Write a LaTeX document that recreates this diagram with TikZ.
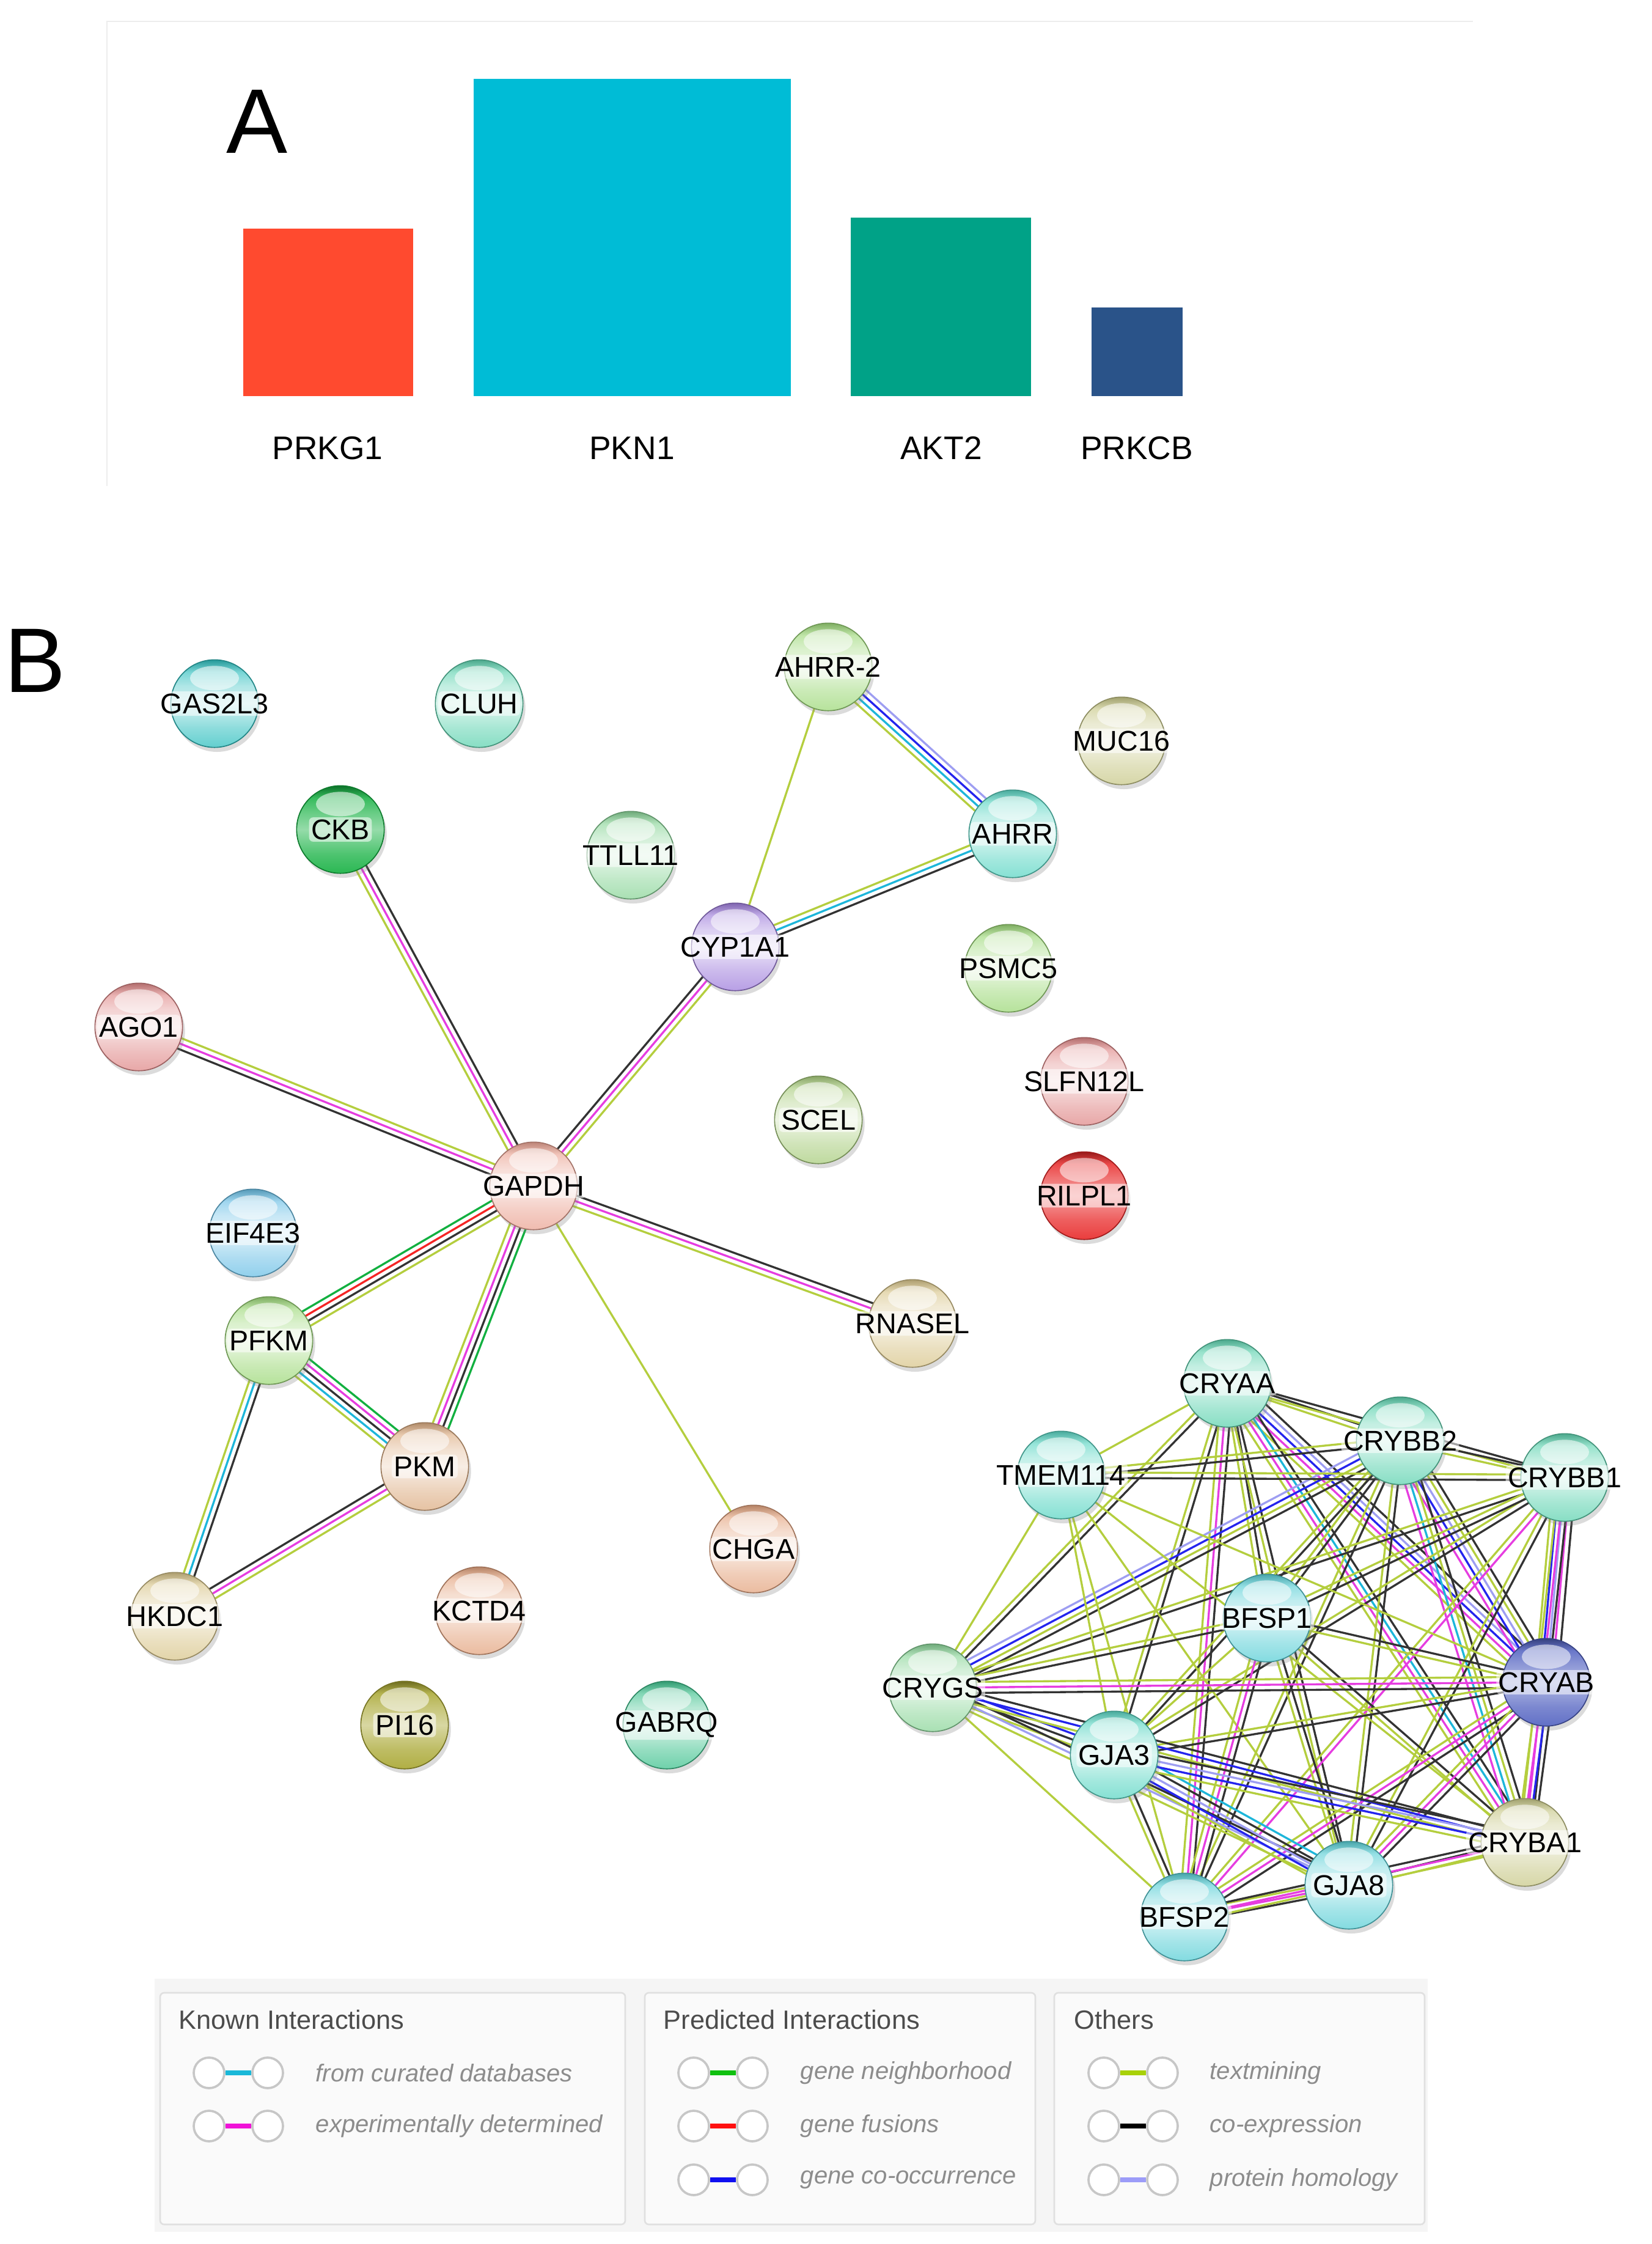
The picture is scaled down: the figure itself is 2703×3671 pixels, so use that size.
\documentclass[tikz,border=0pt]{standalone}
\usepackage{fontspec}
\setmainfont{Liberation Sans}
\usetikzlibrary{calc,shadows,backgrounds}

% bar colours
\definecolor{bprkg}{HTML}{FF4A2F}
\definecolor{bpkn}{HTML}{00BCD6}
\definecolor{bakt}{HTML}{00A287}
\definecolor{bprkcb}{HTML}{2A5389}
% evidence colours
\definecolor{ctxt}{HTML}{B4CE3E}
\definecolor{ccoex}{HTML}{333333}
\definecolor{cexpt}{HTML}{E63DE0}
\definecolor{ccurd}{HTML}{1DB6DA}
\definecolor{cnbhd}{HTML}{12B040}
\definecolor{cfus}{HTML}{F52525}
\definecolor{ccooc}{HTML}{2424EE}
\definecolor{chomo}{HTML}{9E9EF2}
% legend bar colours
\definecolor{ltxt}{HTML}{A8D108}
\definecolor{lexpt}{HTML}{F012D8}
\definecolor{lcurd}{HTML}{1AB8D8}
\definecolor{lnbhd}{HTML}{10C010}
\definecolor{lfus}{HTML}{FF1010}
\definecolor{lcooc}{HTML}{1010F0}
\definecolor{lhomo}{HTML}{9C9CF8}
% protein colours
\definecolor{nteal}{HTML}{2FBFBF}
\definecolor{nmint}{HTML}{5FD3B0}
\definecolor{nlgreen}{HTML}{9ED97A}
\definecolor{nolive}{HTML}{C9C98A}
\definecolor{nckb}{HTML}{13B040}
\definecolor{nsage}{HTML}{8CD69A}
\definecolor{naqua}{HTML}{5CD6C4}
\definecolor{npurple}{HTML}{A07FDC}
\definecolor{npink}{HTML}{E08A8A}
\definecolor{nscel}{HTML}{A9CD7E}
\definecolor{nsalmon}{HTML}{EBA595}
\definecolor{nred}{HTML}{E82828}
\definecolor{nsky}{HTML}{6CC0E6}
\definecolor{nbeige}{HTML}{D9C68C}
\definecolor{ntan}{HTML}{DDAE84}
\definecolor{npeach}{HTML}{E4A580}
\definecolor{npi}{HTML}{A8A630}
\definecolor{ngabrq}{HTML}{3FC28E}
\definecolor{ncyan}{HTML}{5ACFD6}
\definecolor{nnavy}{HTML}{5060C0}

\colorlet{ballc}{gray}
\pgfdeclareverticalshading[ballc]{ballshade}{100bp}{color(0bp)=(ballc!75!white); color(25bp)=(ballc!75!white);
  color(36bp)=(ballc!55!white); color(50bp)=(ballc!22!white); color(60bp)=(ballc!38!white);
  color(68bp)=(ballc!65!white); color(75bp)=(ballc!80!black); color(100bp)=(ballc!80!black)}
\pgfdeclareverticalshading[ballc]{dballshade}{100bp}{color(0bp)=(ballc!90!white); color(25bp)=(ballc!90!white);
  color(36bp)=(ballc!75!white); color(50bp)=(ballc!45!white); color(60bp)=(ballc!65!white);
  color(68bp)=(ballc!85!white); color(75bp)=(ballc!65!black); color(100bp)=(ballc!65!black)}

\tikzset{
  ball/.style={circle, minimum size=43pt, inner sep=0pt, draw=#1!70!black, line width=0.5pt,
    /utils/exec={\colorlet{ballc}{#1}}, shading=ballshade,
    path picture={\fill[white, opacity=0.55] ($(path picture bounding box.center)+(0pt,12.5pt)$) ellipse (12pt and 6pt);},
    drop shadow={opacity=0.28, shadow xshift=1.2pt, shadow yshift=-2.2pt}},
  dball/.style={ball=#1, shading=dballshade},
  glab/.style={font=\fontsize{14}{16}\selectfont, fill=white, fill opacity=0.55, text opacity=1, inner sep=1pt, rounded corners=2pt},
  txt/.style={draw=ctxt, line width=1pt},
  coex/.style={draw=ccoex, line width=1pt},
  expt/.style={draw=cexpt, line width=1pt},
  curd/.style={draw=ccurd, line width=1pt},
  nbhd/.style={draw=cnbhd, line width=1pt},
  fus/.style={draw=cfus, line width=1pt},
  cooc/.style={draw=ccooc, line width=1pt},
  homo/.style={draw=chomo, line width=1pt},
  barlab/.style={font=\fontsize{16}{19}\selectfont},
  panlab/.style={font=\fontsize{45}{50}\selectfont},
  legbox/.style={fill=black!2, draw=black!12, line width=0.8pt, rounded corners=2pt},
  legttl/.style={anchor=west, text=black!70, font=\fontsize{13}{15}\selectfont},
  legtxt/.style={anchor=west, text=black!45, font=\itshape\fontsize{12}{14}\selectfont},
  legball/.style={circle, minimum size=15pt, inner sep=0pt, fill=white, draw=black!22, line width=1.1pt},
  legbar/.style={draw=#1, line width=2.3pt}
}

% parallel evidence lines between two proteins
\newcommand{\strlink}[3]{%
  \foreach \lc [count=\lnn] in {#3}{\xdef\nlines{\lnn}}%
  \foreach \lc [count=\lnn] in {#3}{%
    \pgfmathsetmacro{\lnoff}{(\lnn-(\nlines+1)/2)*2.7}%
    \draw[\lc] ($(#1)!\lnoff pt!90:(#2)$) -- ($(#2)!\lnoff pt!-90:(#1)$);
  }%
}

\begin{document}
\begin{tikzpicture}[x=0.3pt,y=-0.3pt]
\useasboundingbox (0,0) rectangle (2703,3671);

%Panel A frame
\draw[black!7, line width=0.8pt] (175,795) -- (175,35) -- (2410,35);
\node[panlab] (pa) at (421,199) {A};
%Bars
\fill[bprkg] (398,374) rectangle (676,648);
\fill[bpkn] (775,129) rectangle (1294,648);
\fill[bakt] (1392,356) rectangle (1687,648);
\fill[bprkcb] (1786,503) rectangle (1935,648);
\node[barlab] (lprkg) at (536,733) {PRKG1};
\node[barlab] (lpkn) at (1034,733) {PKN1};
\node[barlab] (lakt) at (1540,733) {AKT2};
\node[barlab] (lprkcb) at (1860,733) {PRKCB};

%Panel B
\node[panlab] (pb) at (58,1081) {B};

%Proteins
\node[ball=nteal,label={[glab]center:GAS2L3}] (gas) at (351,1151) {};
\node[ball=nmint,label={[glab]center:CLUH}] (cluh) at (784,1151) {};
\node[ball=nlgreen,label={[glab]center:AHRR-2}] (ahrrtwo) at (1355,1091) {};
\node[ball=nolive,label={[glab]center:MUC16}] (muc) at (1835,1212) {};
\node[dball=nckb,label={[glab]center:CKB}] (ckb) at (557,1357) {};
\node[ball=nsage,label={[glab]center:TTLL11}] (ttll) at (1032,1399) {};
\node[ball=naqua,label={[glab]center:AHRR}] (ahrr) at (1657,1364) {};
\node[ball=npurple,label={[glab]center:CYP1A1}] (cyp) at (1203,1549) {};
\node[ball=nlgreen,label={[glab]center:PSMC5}] (psmc) at (1650,1584) {};
\node[ball=npink,label={[glab]center:AGO1}] (ago) at (227,1680) {};
\node[ball=npink,label={[glab]center:SLFN12L}] (slfn) at (1774,1769) {};
\node[ball=nscel,label={[glab]center:SCEL}] (scel) at (1339,1832) {};
\node[ball=nsalmon,label={[glab]center:GAPDH}] (gapdh) at (873,1940) {};
\node[dball=nred,label={[glab]center:RILPL1}] (rilpl) at (1774,1956) {};
\node[ball=nsky,label={[glab]center:EIF4E3}] (eif) at (414,2017) {};
\node[ball=nlgreen,label={[glab]center:PFKM}] (pfkm) at (440,2193) {};
\node[ball=nbeige,label={[glab]center:RNASEL}] (rnasel) at (1493,2165) {};
\node[ball=ntan,label={[glab]center:PKM}] (pkm) at (695,2399) {};
\node[ball=npeach,label={[glab]center:CHGA}] (chga) at (1233,2534) {};
\node[ball=nbeige,label={[glab]center:HKDC1}] (hkdc) at (286,2644) {};
\node[ball=npeach,label={[glab]center:KCTD4}] (kctd) at (784,2635) {};
\node[dball=npi,label={[glab]center:PI16}] (pi) at (662,2822) {};
\node[ball=ngabrq,label={[glab]center:GABRQ}] (gabrq) at (1091,2822) {};
%Lens cluster
\node[ball=nmint,label={[glab]center:CRYAA}] (cryaa) at (2008,2263) {};
\node[ball=nmint,label={[glab]center:CRYBB2}] (crybbtwo) at (2291,2357) {};
\node[ball=nmint,label={[glab]center:CRYBB1}] (crybbone) at (2560,2417) {};
\node[ball=naqua,label={[glab]center:TMEM114}] (tmem) at (1736,2413) {};
\node[ball=ncyan,label={[glab]center:BFSP1}] (bfspone) at (2073,2647) {};
\node[dball=nnavy,label={[glab]center:CRYAB}] (cryab) at (2530,2752) {};
\node[ball=nsage,label={[glab]center:CRYGS}] (crygs) at (1526,2761) {};
\node[ball=naqua,label={[glab]center:GJA3}] (gjathree) at (1823,2871) {};
\node[ball=nolive,label={[glab]center:CRYBA1}] (cryba) at (2495,3014) {};
\node[ball=ncyan,label={[glab]center:GJA8}] (gjaeight) at (2207,3084) {};
\node[ball=ncyan,label={[glab]center:BFSP2}] (bfsptwo) at (1938,3136) {};

\begin{pgfonlayer}{background}
\fill[white] (0,0) rectangle (2703,3671);
%Edges, glycolysis star
\strlink{ago}{gapdh}{coex,expt,txt}
\strlink{ckb}{gapdh}{txt,expt,coex}
\strlink{cyp}{gapdh}{coex,expt,txt}
\strlink{gapdh}{rnasel}{txt,expt,coex}
\strlink{gapdh}{chga}{txt}
\strlink{gapdh}{pfkm}{nbhd,fus,coex,txt}
\strlink{gapdh}{pkm}{txt,expt,coex,nbhd}
\strlink{pfkm}{pkm}{txt,curd,coex,expt,nbhd}
\strlink{pfkm}{hkdc}{txt,curd,coex}
\strlink{pkm}{hkdc}{coex,expt,txt}
\strlink{cyp}{ahrrtwo}{txt}
\strlink{cyp}{ahrr}{coex,curd,txt}
\strlink{ahrrtwo}{ahrr}{txt,curd,cooc,homo}
%Edges, lens cluster
\strlink{cryaa}{crybbtwo}{txt,coex}
\strlink{cryaa}{crybbone}{txt,coex}
\strlink{cryaa}{cryab}{txt,expt,cooc,homo,coex}
\strlink{cryaa}{cryba}{txt,expt,curd,coex}
\strlink{cryaa}{tmem}{txt}
\strlink{cryaa}{bfspone}{txt,coex}
\strlink{cryaa}{crygs}{txt,coex}
\strlink{cryaa}{gjathree}{txt,coex}
\strlink{cryaa}{gjaeight}{txt,coex}
\strlink{cryaa}{bfsptwo}{txt,expt,coex}
\strlink{crybbtwo}{crybbone}{txt,coex}
\strlink{crybbtwo}{tmem}{txt,coex}
\strlink{crybbtwo}{crygs}{homo,cooc,txt,coex}
\strlink{crybbtwo}{bfspone}{txt,coex}
\strlink{crybbtwo}{cryab}{expt,cooc,homo,txt,coex}
\strlink{crybbtwo}{cryba}{expt,curd,txt,coex}
\strlink{crybbtwo}{gjathree}{txt,coex}
\strlink{crybbtwo}{gjaeight}{txt,coex}
\strlink{crybbtwo}{bfsptwo}{txt,coex}
\strlink{crybbone}{tmem}{txt,coex}
\strlink{crybbone}{cryab}{txt,cooc,homo,expt,coex}
\strlink{crybbone}{cryba}{txt,expt,coex}
\strlink{crybbone}{crygs}{txt,coex}
\strlink{crybbone}{gjathree}{txt,coex}
\strlink{crybbone}{bfsptwo}{txt,expt}
\strlink{crybbone}{gjaeight}{txt,coex}
\strlink{crybbone}{bfspone}{txt,coex}
\strlink{tmem}{crygs}{txt}
\strlink{tmem}{gjathree}{txt}
\strlink{tmem}{bfsptwo}{txt}
\strlink{tmem}{cryab}{txt}
\strlink{tmem}{gjaeight}{txt}
\strlink{tmem}{cryba}{txt}
\strlink{bfspone}{crygs}{txt,coex}
\strlink{bfspone}{cryab}{txt,coex}
\strlink{bfspone}{gjathree}{txt}
\strlink{bfspone}{bfsptwo}{txt,expt,coex}
\strlink{bfspone}{gjaeight}{txt,coex}
\strlink{bfspone}{cryba}{txt,coex}
\strlink{cryab}{crygs}{txt,expt,coex}
\strlink{cryab}{gjathree}{txt,coex}
\strlink{cryab}{bfsptwo}{txt,expt,coex}
\strlink{cryab}{gjaeight}{txt,expt,coex}
\strlink{cryab}{cryba}{txt,expt,cooc,coex}
\strlink{crygs}{gjathree}{txt,coex,cooc}
\strlink{crygs}{bfsptwo}{txt}
\strlink{crygs}{gjaeight}{txt,homo,coex}
\strlink{crygs}{cryba}{txt,cooc,coex}
\strlink{gjathree}{gjaeight}{txt,cooc,homo,coex,curd}
\strlink{gjathree}{bfsptwo}{txt,coex}
\strlink{gjathree}{cryba}{txt,cooc,homo,coex}
\strlink{gjaeight}{bfsptwo}{txt,expt,coex}
\strlink{gjaeight}{cryba}{txt,coex}
\strlink{bfsptwo}{cryba}{txt,expt,coex}
\end{pgfonlayer}

%Legend
\fill[black!4] (253,3237) rectangle (2336,3651);
\draw[legbox] (262,3260) rectangle (1023,3639);
\draw[legbox] (1055,3260) rectangle (1694,3639);
\draw[legbox] (1725,3260) rectangle (2331,3639);
\node[legttl] (tknown) at (281,3304) {Known Interactions};
\node[legttl] (tpred) at (1074,3304) {Predicted Interactions};
\node[legttl] (tother) at (1746,3304) {Others};
% Known
\node[legball] (ka1) at (342,3391) {};
\node[legball] (kb1) at (438,3391) {};
\draw[legbar=lcurd] (ka1) -- (kb1);
\node[legtxt] (kt1) at (505,3391) {from curated databases};
\node[legball] (ka2) at (342,3478) {};
\node[legball] (kb2) at (438,3478) {};
\draw[legbar=lexpt] (ka2) -- (kb2);
\node[legtxt] (kt2) at (505,3478) {experimentally determined};
% Predicted
\node[legball] (pa1) at (1135,3391) {};
\node[legball] (pb1) at (1231,3391) {};
\draw[legbar=lnbhd] (pa1) -- (pb1);
\node[legtxt] (pt1) at (1298,3391) {gene neighborhood};
\node[legball] (pa2) at (1135,3478) {};
\node[legball] (pb2) at (1231,3478) {};
\draw[legbar=lfus] (pa2) -- (pb2);
\node[legtxt] (pt2) at (1298,3478) {gene fusions};
\node[legball] (pa3) at (1135,3566) {};
\node[legball] (pb3) at (1231,3566) {};
\draw[legbar=lcooc] (pa3) -- (pb3);
\node[legtxt] (pt3) at (1298,3566) {gene co-occurrence};
% Others
\node[legball] (oa1) at (1806,3391) {};
\node[legball] (ob1) at (1902,3391) {};
\draw[legbar=ltxt] (oa1) -- (ob1);
\node[legtxt] (ot1) at (1968,3391) {textmining};
\node[legball] (oa2) at (1806,3478) {};
\node[legball] (ob2) at (1902,3478) {};
\draw[legbar=black] (oa2) -- (ob2);
\node[legtxt] (ot2) at (1968,3478) {co-expression};
\node[legball] (oa3) at (1806,3566) {};
\node[legball] (ob3) at (1902,3566) {};
\draw[legbar=lhomo] (oa3) -- (ob3);
\node[legtxt] (ot3) at (1968,3566) {protein homology};

\end{tikzpicture}
\end{document}
